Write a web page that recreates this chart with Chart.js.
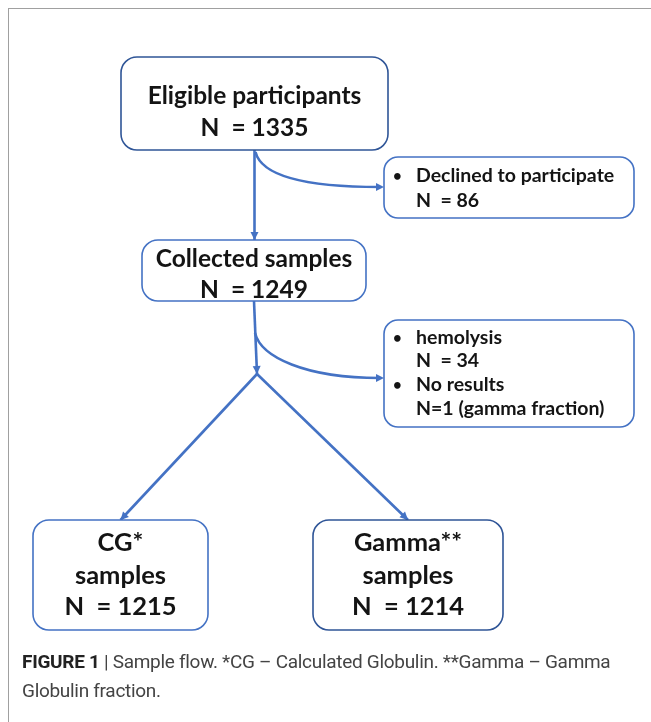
<!DOCTYPE html>
<html>
<head>
<meta charset="utf-8">
<script src="https://cdn.jsdelivr.net/npm/chart.js@4.4.1/dist/chart.umd.min.js"></script>
<style>
    html, body { margin: 0; padding: 0; background: #fff; }
    .figure { position: relative; width: 651px; height: 722px; overflow: hidden; }
    .frame { position: absolute; left: 8px; top: 8px; width: 660px; height: 730px; border-left: 1px solid #a0a0a0; border-top: 1px solid #a0a0a0; }
    #flowChart { position: absolute; left: 0; top: 0; }
    .caption { position: absolute; left: 22px; top: 647px; width: 620px; font-family: "Liberation Sans Narrow", "Roboto", sans-serif; font-size: 19px; letter-spacing: -0.3px; line-height: 29px; color: #444; }
    .caption b { color: #222; }
</style>
</head>
<body>
<div class="figure">
    <div class="frame"></div>
    <canvas id="flowChart" width="651" height="722"></canvas>
    <div class="caption"><b>FIGURE 1</b> | Sample flow. *CG – Calculated Globulin. **Gamma – Gamma Globulin fraction.</div>
</div>
<script>
// ---- data ----
const stageTitles = [['Eligible participants'], ['Collected samples'], ['CG*', 'samples'], ['Gamma**', 'samples']];
const stageCounts = [1335, 1249, 1215, 1214];
const exclusionTitles = [['Declined to participate'], ['hemolysis', 'No results']];
const exclusionCounts = [['86'], ['34', '1 (gamma fraction)']];

// ---- layout (in axis units, x 0..651, y 0..722 downward) ----
const stageBoxes = [[121, 57, 388, 150], [142, 240, 366, 301], [33, 520, 208, 630], [313, 520, 503, 630]];
const stageLineY = [[96, 128], [259, 290], [543, 576, 607], [543, 576, 607]];
const exclusionBoxes = [[384, 157, 634, 218], [384, 320, 634, 427]];
const exclusionLineY = [[176, 201], [338, 361, 385, 409]];
const splitPoint = [257, 374];

const BLUE = '#4472C4';
const DARK_BLUE = '#2F5597';
const TEXT = '#141414';

const center = b => (b[0] + b[2]) / 2;

// straight arrows, built from the box layout
const straightEdges = [
    [[center(stageBoxes[0]), stageBoxes[0][3]], [center(stageBoxes[0]), stageBoxes[1][1]]],
    [[center(stageBoxes[1]), stageBoxes[1][3]], splitPoint],
    [splitPoint, [center(stageBoxes[2]), stageBoxes[2][1]]],
    [splitPoint, [center(stageBoxes[3]), stageBoxes[3][1]]]
];

const flowPlugin = {
    id: 'flowPlugin',
    afterDatasetsDraw(chart) {
        const { ctx, scales: { x, y } } = chart;
        const px = v => x.getPixelForValue(v);
        const py = v => y.getPixelForValue(v);

        const roundBox = (b, r, color, lw) => {
            ctx.save();
            ctx.beginPath();
            ctx.roundRect(px(b[0]), py(b[1]), px(b[2]) - px(b[0]), py(b[3]) - py(b[1]), r);
            ctx.fillStyle = '#fff';
            ctx.fill();
            ctx.strokeStyle = color;
            ctx.lineWidth = lw;
            ctx.stroke();
            ctx.restore();
        };

        const arrowHead = (from, to) => {
            const x1 = px(to[0]), y1 = py(to[1]);
            const a = Math.atan2(y1 - py(from[1]), x1 - px(from[0]));
            ctx.save();
            ctx.translate(x1, y1);
            ctx.rotate(a);
            ctx.beginPath();
            ctx.moveTo(0, 0);
            ctx.lineTo(-8, -4);
            ctx.lineTo(-8, 4);
            ctx.closePath();
            ctx.fillStyle = BLUE;
            ctx.fill();
            ctx.restore();
        };

        // curved arrows to the exclusion boxes
        const curves = [
            [center(stageBoxes[0]) + 1, stageBoxes[0][3] + 2, exclusionBoxes[0][0], 187],
            [center(stageBoxes[1]) + 1, 333, exclusionBoxes[1][0], 378]
        ];
        curves.forEach(c => {
            ctx.save();
            ctx.beginPath();
            ctx.moveTo(px(c[0]), py(c[1]));
            ctx.bezierCurveTo(px(c[0] + 6), py(c[1] + 24), px(c[0] + 50), py(c[3]), px(c[2] - 4), py(c[3]));
            ctx.strokeStyle = BLUE;
            ctx.lineWidth = 2.6;
            ctx.stroke();
            ctx.restore();
            arrowHead([c[2] - 20, c[3]], [c[2], c[3]]);
        });

        straightEdges.forEach(e => arrowHead(e[0], e[1]));

        // boxes
        stageBoxes.forEach((b, i) => roundBox(b, 16, (i === 0 || i === 3) ? DARK_BLUE : BLUE, 1.6));
        exclusionBoxes.forEach(b => roundBox(b, 14, BLUE, 1.6));

        ctx.save();
        ctx.fillStyle = TEXT;
        ctx.textBaseline = 'middle';
        ctx.textAlign = 'center';

        // stage text
        const stageFont = ['bold 24.5px Lato', 'bold 24.5px Lato', 'bold 25.5px Lato', 'bold 25.5px Lato'];
        stageBoxes.forEach((b, i) => {
            const lines = stageTitles[i].concat(['N  = ' + stageCounts[i]]);
            ctx.font = stageFont[i];
            lines.forEach((t, k) => ctx.fillText(t, px(center(b)), py(stageLineY[i][k])));
        });

        // exclusion text
        ctx.textAlign = 'left';
        ctx.font = 'bold 19.5px Lato';
        exclusionBoxes.forEach((b, i) => {
            const rows = [];
            exclusionTitles[i].forEach((t, k) => {
                rows.push({ bullet: true, text: t });
                const n = exclusionCounts[i][k];
                rows.push({ bullet: false, text: n.length > 3 ? 'N=' + n : 'N  = ' + n });
            });
            rows.forEach((r, k) => {
                const ly = exclusionLineY[i][k];
                if (r.bullet) {
                    ctx.font = 'bold 15px Lato';
                    ctx.fillText('•', px(b[0] + 9), py(ly));
                    ctx.font = 'bold 19.5px Lato';
                }
                ctx.fillText(r.text, px(b[0] + 32), py(ly));
            });
        });
        ctx.restore();
    }
};

new Chart(document.getElementById('flowChart'), {
    type: 'scatter',
    data: {
        datasets: straightEdges.map(e => ({
            data: e.map(p => ({ x: p[0], y: p[1] })),
            showLine: true,
            borderColor: BLUE,
            borderWidth: 2.6,
            pointRadius: 0,
            tension: 0
        }))
    },
    options: {
        responsive: false,
        animation: false,
        layout: { padding: 0 },
        plugins: { legend: { display: false }, tooltip: { enabled: false } },
        scales: {
            x: { type: 'linear', min: 0, max: 651, display: false },
            y: { type: 'linear', min: 0, max: 722, reverse: true, display: false }
        }
    },
    plugins: [flowPlugin]
});
</script>
</body>
</html>
